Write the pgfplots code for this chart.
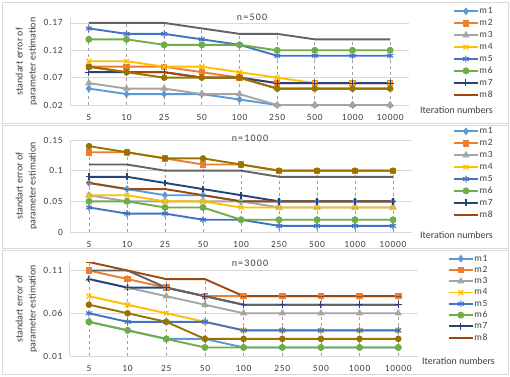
\documentclass[border=0pt]{standalone}
\usepackage{pgfplots}
\pgfplotsset{compat=1.18}
\usepackage{pgfplotstable}
\usepackage{fontspec}
\setmainfont{Carlito}
\newfontfamily\numfont[LetterSpace=8]{Carlito}
\newfontfamily\titfont[LetterSpace=12]{Carlito}
\usetikzlibrary{plotmarks}

\definecolor{c1}{HTML}{5B9BD5}
\definecolor{c2}{HTML}{ED7D31}
\definecolor{c3}{HTML}{A5A5A5}
\definecolor{c4}{HTML}{FFC000}
\definecolor{c5}{HTML}{4472C4}
\definecolor{c6}{HTML}{70AD47}
\definecolor{c7}{HTML}{264478}
\definecolor{c8}{HTML}{9E480E}
\definecolor{c9}{HTML}{636363}
\definecolor{c10}{HTML}{997300}
\definecolor{gridc}{HTML}{D9D9D9}
\definecolor{dropc}{HTML}{A0A0A0}
\definecolor{txt}{HTML}{404040}

% n = 500
\pgfplotstableread{
x m1 m2 m3 m4 m5 m6 m7 m8 s9 s10
0 0.05 0.09 0.06 0.10 0.16 0.14 0.08 0.09 0.17 0.09
1 0.04 0.09 0.05 0.10 0.15 0.14 0.08 0.08 0.17 0.08
2 0.04 0.09 0.05 0.09 0.15 0.13 0.08 0.08 0.17 0.07
3 0.04 0.08 0.04 0.09 0.14 0.13 0.07 0.07 0.16 0.07
4 0.03 0.07 0.04 0.08 0.13 0.13 0.07 0.07 0.15 0.07
5 0.02 0.06 0.02 0.07 0.11 0.12 0.06 0.05 0.15 0.05
6 0.02 0.06 0.02 0.06 0.11 0.12 0.06 0.05 0.14 0.05
7 0.02 0.06 0.02 0.06 0.11 0.12 0.06 0.05 0.14 0.05
8 0.02 0.06 0.02 0.06 0.11 0.12 0.06 0.05 0.14 0.05
}\tA
% n = 1000
\pgfplotstableread{
x m1 m2 m3 m4 m5 m6 m7 m8 s9 s10
0 0.08 0.13 0.06 0.06 0.04 0.05 0.09 0.08 0.11 0.14
1 0.07 0.13 0.05 0.06 0.03 0.05 0.09 0.07 0.11 0.13
2 0.06 0.12 0.05 0.05 0.03 0.04 0.08 0.07 0.10 0.12
3 0.06 0.11 0.05 0.05 0.02 0.04 0.07 0.06 0.10 0.12
4 0.05 0.11 0.05 0.04 0.02 0.02 0.06 0.05 0.10 0.11
5 0.05 0.10 0.04 0.04 0.01 0.02 0.05 0.05 0.09 0.10
6 0.05 0.10 0.04 0.04 0.01 0.02 0.05 0.05 0.09 0.10
7 0.05 0.10 0.04 0.04 0.01 0.02 0.05 0.05 0.09 0.10
8 0.05 0.10 0.04 0.04 0.01 0.02 0.05 0.05 0.09 0.10
}\tB
% n = 3000
\pgfplotstableread{
x m1 m2 m3 m4 m5 m6 m7 m8 s9 s10
0 0.05 0.11 0.10 0.08 0.06 0.05 0.10 0.12 0.11 0.07
1 0.04 0.10 0.09 0.07 0.05 0.04 0.09 0.11 0.11 0.06
2 0.03 0.09 0.08 0.06 0.05 0.03 0.09 0.10 0.09 0.05
3 0.03 0.08 0.07 0.05 0.05 0.02 0.08 0.10 0.08 0.03
4 0.02 0.08 0.06 0.04 0.04 0.02 0.07 0.08 0.07 0.03
5 0.02 0.08 0.06 0.04 0.04 0.02 0.07 0.08 0.07 0.03
6 0.02 0.08 0.06 0.04 0.04 0.02 0.07 0.08 0.07 0.03
7 0.02 0.08 0.06 0.04 0.04 0.02 0.07 0.08 0.07 0.03
8 0.02 0.08 0.06 0.04 0.04 0.02 0.07 0.08 0.07 0.03
}\tC

\pgfplotsset{
  ser/.style={line width=1.9bp, mark options={solid, line width=0.9bp}},
  sm1/.style={ser, color=c1, mark=diamond*, mark size=3.2bp},
  sm2/.style={ser, color=c2, mark=square*, mark size=2.7bp},
  sm3/.style={ser, color=c3, mark=triangle*, mark size=3.4bp},
  sm4/.style={ser, color=c4, mark=x, mark size=3.3bp, mark options={solid, line width=1.3bp}},
  sm5/.style={ser, color=c5, mark=asterisk, mark size=3.4bp, mark options={solid, line width=1.1bp}},
  sm6/.style={ser, color=c6, mark=*, mark size=3bp},
  sm7/.style={ser, color=c7, mark=+, mark size=3.4bp, mark options={solid, line width=1.1bp}},
  sm8/.style={ser, color=c8, mark=-, mark size=2.6bp},
  s9/.style={ser, color=c9, mark=none, forget plot},
  s10/.style={ser, color=c10, mark=*, mark size=2.8bp, forget plot},
  drop/.style={ycomb, color=dropc, line width=0.8bp, dash pattern=on 3.5bp off 2.5bp, mark=none, forget plot},
  panel/.style={
    scale only axis, anchor=south west,
    xmin=-0.5, xmax=8.5, xtick={0,...,8},
    xticklabels={5,10,25,50,100,250,500,1000,10000},
    axis x line*=bottom, axis y line*=left,
    axis line style={draw=gridc, line width=0.75bp},
    major tick length=0pt,
    ymajorgrids, major grid style={draw=gridc, line width=0.75bp},
    xticklabel style={font=\numfont\fontsize{9.5}{10}\selectfont, text=txt, anchor=base, yshift=-15bp},
    yticklabel style={font=\numfont\fontsize{9.5}{10}\selectfont, text=txt, anchor=east, inner sep=0pt, xshift=-7bp},
    legend cell align=left,
    legend image code/.code={\draw[mark repeat=2,mark phase=2] plot coordinates {(0bp,0bp) (12bp,0bp) (24bp,0bp)};},
    legend style={draw=none, fill=none, anchor=north west, inner sep=0pt, outer sep=0pt,
      font=\numfont\fontsize{9.5}{10}\selectfont, text=txt, row sep=1.5bp,
      nodes={inner sep=0.6bp, text height=7bp, text depth=2.2bp}},
  },
}

\begin{document}
\begin{tikzpicture}
\fill[white] (0,0) rectangle (510bp,-377bp);
\path[use as bounding box] (0,0) rectangle (510bp,-377bp);
\draw[gridc, line width=0.75bp] (2bp,-2bp) rectangle (508bp,-123bp);
\draw[gridc, line width=0.75bp] (2bp,-125.5bp) rectangle (508bp,-248bp);
\draw[gridc, line width=0.75bp] (2bp,-250.5bp) rectangle (508bp,-374bp);

% ---------- n = 500
\begin{axis}[panel, at={(70bp,-105bp)}, width=339bp, height=87bp,
  ymin=0.02, ymax=0.179, ytick={0.02,0.07,0.12,0.17}, yticklabels={0.02,0.07,0.12,0.17},
  legend style={at={(1.1298,1.1362)}}]
\addplot[drop] table[x=x,y=s9]{\tA};
\addplot[sm1] table[x=x,y=m1]{\tA};
\addplot[sm2] table[x=x,y=m2]{\tA};
\addplot[sm3] table[x=x,y=m3]{\tA};
\addplot[sm4] table[x=x,y=m4]{\tA};
\addplot[sm5] table[x=x,y=m5]{\tA};
\addplot[sm6] table[x=x,y=m6]{\tA};
\addplot[sm7] table[x=x,y=m7]{\tA};
\addplot[sm8] table[x=x,y=m8]{\tA};
\addplot[s9] table[x=x,y=s9]{\tA};
\addplot[s10] table[x=x,y=s10]{\tA};
\legend{m1,m2,m3,m4,m5,m6,m7,m8}
\end{axis}

% ---------- n = 1000
\begin{axis}[panel, at={(70bp,-232bp)}, width=342bp, height=92bp,
  ymin=0, ymax=0.15, ytick={0,0.05,0.1,0.15}, yticklabels={0,0.05,0.1,0.15},
  legend style={at={(1.1199,1.150)}}]
\addplot[drop] table[x=x,y=s10]{\tB};
\addplot[sm1] table[x=x,y=m1]{\tB};
\addplot[sm2] table[x=x,y=m2]{\tB};
\addplot[sm3] table[x=x,y=m3]{\tB};
\addplot[sm4] table[x=x,y=m4]{\tB};
\addplot[sm5] table[x=x,y=m5]{\tB};
\addplot[sm6] table[x=x,y=m6]{\tB};
\addplot[sm7] table[x=x,y=m7]{\tB};
\addplot[sm8] table[x=x,y=m8]{\tB};
\addplot[s9] table[x=x,y=s9]{\tB};
\addplot[s10] table[x=x,y=s10]{\tB};
\legend{m1,m2,m3,m4,m5,m6,m7,m8}
\end{axis}

% ---------- n = 3000
\begin{axis}[panel, at={(69.6bp,-356bp)}, width=348bp, height=94bp,
  ymin=0.01, ymax=0.12, ytick={0.01,0.06,0.11}, yticklabels={0.01,0.06,0.11},
  legend style={at={(1.087,1.091)}, row sep=0.9bp}]
\addplot[drop] table[x=x,y=m8]{\tC};
\addplot[sm1] table[x=x,y=m1]{\tC};
\addplot[sm2] table[x=x,y=m2]{\tC};
\addplot[sm3] table[x=x,y=m3]{\tC};
\addplot[sm4] table[x=x,y=m4]{\tC};
\addplot[sm5] table[x=x,y=m5]{\tC};
\addplot[sm6] table[x=x,y=m6]{\tC};
\addplot[sm7] table[x=x,y=m7]{\tC};
\addplot[sm8] table[x=x,y=m8]{\tC};
\addplot[s9] table[x=x,y=s9]{\tC};
\addplot[s10] table[x=x,y=s10]{\tC};
\legend{m1,m2,m3,m4,m5,m6,m7,m8}
\end{axis}

% titles and labels
\begin{scope}[every node/.style={text=txt}]
\node[font=\titfont\fontsize{10}{12}\selectfont] at (252bp,-17bp) {n=500};
\node[font=\titfont\fontsize{10}{12}\selectfont] at (250bp,-138bp) {n=1000};
\node[font=\titfont\fontsize{10}{12}\selectfont] at (250bp,-263bp) {n=3000};
\node[font=\fontsize{10}{12}\selectfont] at (456.5bp,-110bp) {Iteration numbers};
\node[font=\fontsize{10}{12}\selectfont] at (456.5bp,-235bp) {Iteration numbers};
\node[font=\fontsize{10}{12}\selectfont] at (458.5bp,-361bp) {Iteration numbers};
\node[rotate=90, align=center, font=\fontsize{10}{13}\selectfont] at (26.5bp,-61.5bp) {standart error of\\parameter estimation};
\node[rotate=90, align=center, font=\fontsize{10}{13}\selectfont] at (26.5bp,-186bp) {standart error of\\parameter estimation};
\node[rotate=90, align=center, font=\fontsize{10}{13}\selectfont] at (26.5bp,-309bp) {standart error of\\parameter estimation};
\end{scope}
\end{tikzpicture}
\end{document}
